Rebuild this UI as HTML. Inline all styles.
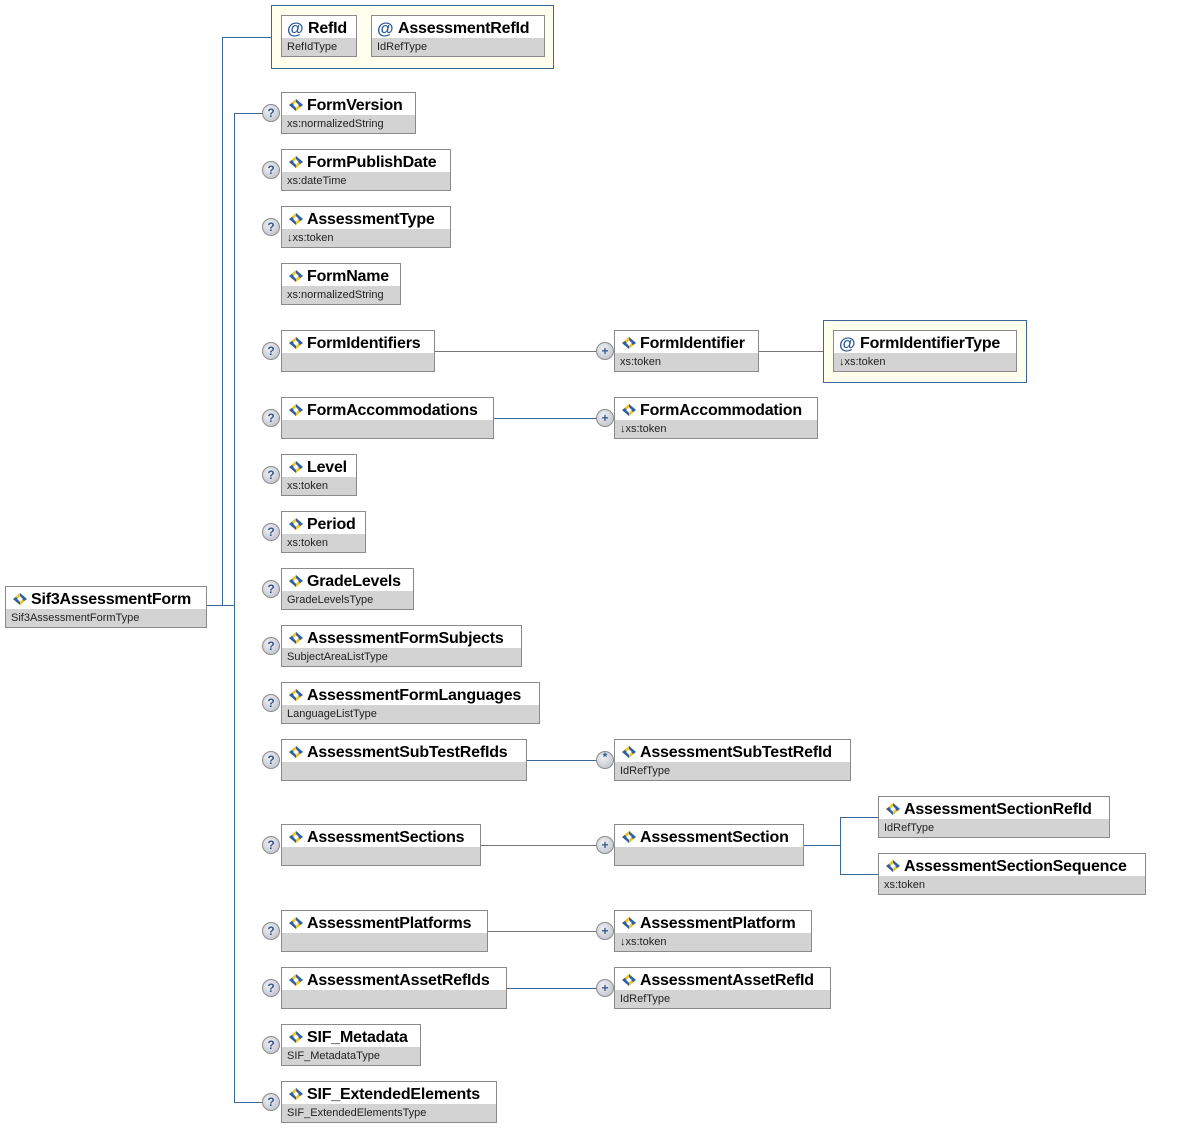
<!DOCTYPE html>
<html><head><meta charset="utf-8"><style>
body{margin:0;width:1186px;height:1128px;background:#fff;position:relative;font-family:"Liberation Sans",sans-serif;overflow:hidden}
.b{position:absolute;height:40px;border:1px solid #8a8a8a;background:#d3d3d3;box-sizing:content-box}
.b .t{height:22px;background:#fff;font-size:16px;font-weight:bold;line-height:26px;color:#000;white-space:nowrap;padding-left:25px;position:relative;letter-spacing:-0.2px}
.b .y{font-size:11px;line-height:19px;padding-left:5px;color:#222;white-space:nowrap}
.i{position:absolute;left:6px;top:6px;width:16px;height:12px}
.at{position:absolute;left:5px;top:0px;color:#2a5a9a;font-size:17px;font-weight:bold}
.b.a .t{padding-left:26px}
.c{position:absolute;border:1px solid #3d6799;background:#ffffee}
.h{position:absolute;height:1px;background:#3d6799}
.v{position:absolute;width:1px;background:#3d6799}
.q{position:absolute;width:16px;height:16px;border-radius:50%;border:1px solid #8c8c8c;background:radial-gradient(circle at 40% 35%,#eef0f4,#b8bcc4);font-size:12px;font-weight:bold;color:#3a5a8a;text-align:center;line-height:16px}
</style></head><body>
<svg width="0" height="0" style="position:absolute"><defs><g id="ic"><polygon points="8,0 15,6 8,12 1,6" fill="#f2c21c"/><polygon points="8,0 15,6 12,8 8,4" fill="#2d5fa8"/><polygon points="1,6 4,4 8,8 8,12" fill="#2d5fa8"/><rect x="6" y="4" width="4" height="4" fill="#fff" transform="rotate(45 8 6)"/></g></defs></svg>

<div class="h" style="left:207px;top:605px;width:27px"></div>
<div class="v" style="left:222px;top:37px;height:569px"></div>
<div class="h" style="left:222px;top:37px;width:49px"></div>
<div class="v" style="left:234px;top:113px;height:989px"></div>
<div class="h" style="left:234px;top:113px;width:30px"></div>
<div class="h" style="left:234px;top:1102px;width:30px"></div>
<div class="h" style="left:434px;top:351px;width:164px;background:#777"></div>
<div class="h" style="left:758px;top:351px;width:65px;background:#777"></div>
<div class="h" style="left:493px;top:418px;width:105px"></div>
<div class="h" style="left:526px;top:760px;width:72px"></div>
<div class="h" style="left:480px;top:845px;width:118px;background:#777"></div>
<div class="h" style="left:803px;top:845px;width:37px"></div>
<div class="v" style="left:840px;top:817px;height:58px"></div>
<div class="h" style="left:840px;top:817px;width:38px"></div>
<div class="h" style="left:840px;top:874px;width:38px"></div>
<div class="h" style="left:487px;top:931px;width:111px;background:#777"></div>
<div class="h" style="left:506px;top:988px;width:92px"></div>

<div class="b" style="left:5px;top:586px;width:200px"><div class="t"><svg class="i"><use href="#ic"/></svg>Sif3AssessmentForm</div><div class="y">Sif3AssessmentFormType</div></div>

<div class="c" style="left:271px;top:5px;width:281px;height:62px"></div>
<div class="b a" style="left:281px;top:15px;width:74px"><div class="t"><span class="at">@</span>RefId</div><div class="y">RefIdType</div></div>
<div class="b a" style="left:371px;top:15px;width:172px"><div class="t"><span class="at">@</span>AssessmentRefId</div><div class="y">IdRefType</div></div>

<div class="q" style="left:262px;top:104px">?</div>
<div class="q" style="left:262px;top:161px">?</div>
<div class="q" style="left:262px;top:218px">?</div>
<div class="q" style="left:262px;top:342px">?</div>
<div class="q" style="left:262px;top:409px">?</div>
<div class="q" style="left:262px;top:466px">?</div>
<div class="q" style="left:262px;top:523px">?</div>
<div class="q" style="left:262px;top:580px">?</div>
<div class="q" style="left:262px;top:637px">?</div>
<div class="q" style="left:262px;top:694px">?</div>
<div class="q" style="left:262px;top:751px">?</div>
<div class="q" style="left:262px;top:836px">?</div>
<div class="q" style="left:262px;top:922px">?</div>
<div class="q" style="left:262px;top:979px">?</div>
<div class="q" style="left:262px;top:1036px">?</div>
<div class="q" style="left:262px;top:1093px">?</div>

<div class="b" style="left:281px;top:92px;width:133px"><div class="t"><svg class="i"><use href="#ic"/></svg>FormVersion</div><div class="y">xs:normalizedString</div></div>
<div class="b" style="left:281px;top:149px;width:168px"><div class="t"><svg class="i"><use href="#ic"/></svg>FormPublishDate</div><div class="y">xs:dateTime</div></div>
<div class="b" style="left:281px;top:206px;width:168px"><div class="t"><svg class="i"><use href="#ic"/></svg>AssessmentType</div><div class="y">↓xs:token</div></div>
<div class="b" style="left:281px;top:263px;width:118px"><div class="t"><svg class="i"><use href="#ic"/></svg>FormName</div><div class="y">xs:normalizedString</div></div>
<div class="b" style="left:281px;top:330px;width:152px"><div class="t"><svg class="i"><use href="#ic"/></svg>FormIdentifiers</div><div class="y"></div></div>
<div class="b" style="left:281px;top:397px;width:211px"><div class="t"><svg class="i"><use href="#ic"/></svg>FormAccommodations</div><div class="y"></div></div>
<div class="b" style="left:281px;top:454px;width:74px"><div class="t"><svg class="i"><use href="#ic"/></svg>Level</div><div class="y">xs:token</div></div>
<div class="b" style="left:281px;top:511px;width:83px"><div class="t"><svg class="i"><use href="#ic"/></svg>Period</div><div class="y">xs:token</div></div>
<div class="b" style="left:281px;top:568px;width:131px"><div class="t"><svg class="i"><use href="#ic"/></svg>GradeLevels</div><div class="y">GradeLevelsType</div></div>
<div class="b" style="left:281px;top:625px;width:239px"><div class="t"><svg class="i"><use href="#ic"/></svg>AssessmentFormSubjects</div><div class="y">SubjectAreaListType</div></div>
<div class="b" style="left:281px;top:682px;width:257px"><div class="t"><svg class="i"><use href="#ic"/></svg>AssessmentFormLanguages</div><div class="y">LanguageListType</div></div>
<div class="b" style="left:281px;top:739px;width:244px"><div class="t"><svg class="i"><use href="#ic"/></svg>AssessmentSubTestRefIds</div><div class="y"></div></div>
<div class="b" style="left:281px;top:824px;width:198px"><div class="t"><svg class="i"><use href="#ic"/></svg>AssessmentSections</div><div class="y"></div></div>
<div class="b" style="left:281px;top:910px;width:205px"><div class="t"><svg class="i"><use href="#ic"/></svg>AssessmentPlatforms</div><div class="y"></div></div>
<div class="b" style="left:281px;top:967px;width:224px"><div class="t"><svg class="i"><use href="#ic"/></svg>AssessmentAssetRefIds</div><div class="y"></div></div>
<div class="b" style="left:281px;top:1024px;width:138px"><div class="t"><svg class="i"><use href="#ic"/></svg>SIF_Metadata</div><div class="y">SIF_MetadataType</div></div>
<div class="b" style="left:281px;top:1081px;width:214px"><div class="t"><svg class="i"><use href="#ic"/></svg>SIF_ExtendedElements</div><div class="y">SIF_ExtendedElementsType</div></div>

<div class="q" style="left:596px;top:342px">+</div>
<div class="q" style="left:596px;top:409px">+</div>
<div class="q" style="left:596px;top:751px;line-height:10px">*</div>
<div class="q" style="left:596px;top:836px">+</div>
<div class="q" style="left:596px;top:922px">+</div>
<div class="q" style="left:596px;top:979px">+</div>

<div class="b" style="left:614px;top:330px;width:143px"><div class="t"><svg class="i"><use href="#ic"/></svg>FormIdentifier</div><div class="y">xs:token</div></div>
<div class="c" style="left:823px;top:320px;width:202px;height:61px"></div>
<div class="b a" style="left:833px;top:330px;width:182px"><div class="t"><span class="at">@</span>FormIdentifierType</div><div class="y">↓xs:token</div></div>
<div class="b" style="left:614px;top:397px;width:202px"><div class="t"><svg class="i"><use href="#ic"/></svg>FormAccommodation</div><div class="y">↓xs:token</div></div>
<div class="b" style="left:614px;top:739px;width:235px"><div class="t"><svg class="i"><use href="#ic"/></svg>AssessmentSubTestRefId</div><div class="y">IdRefType</div></div>
<div class="b" style="left:614px;top:824px;width:188px"><div class="t"><svg class="i"><use href="#ic"/></svg>AssessmentSection</div><div class="y"></div></div>
<div class="b" style="left:878px;top:796px;width:230px"><div class="t"><svg class="i"><use href="#ic"/></svg>AssessmentSectionRefId</div><div class="y">IdRefType</div></div>
<div class="b" style="left:878px;top:853px;width:266px"><div class="t"><svg class="i"><use href="#ic"/></svg>AssessmentSectionSequence</div><div class="y">xs:token</div></div>
<div class="b" style="left:614px;top:910px;width:196px"><div class="t"><svg class="i"><use href="#ic"/></svg>AssessmentPlatform</div><div class="y">↓xs:token</div></div>
<div class="b" style="left:614px;top:967px;width:215px"><div class="t"><svg class="i"><use href="#ic"/></svg>AssessmentAssetRefId</div><div class="y">IdRefType</div></div>
</body></html>
